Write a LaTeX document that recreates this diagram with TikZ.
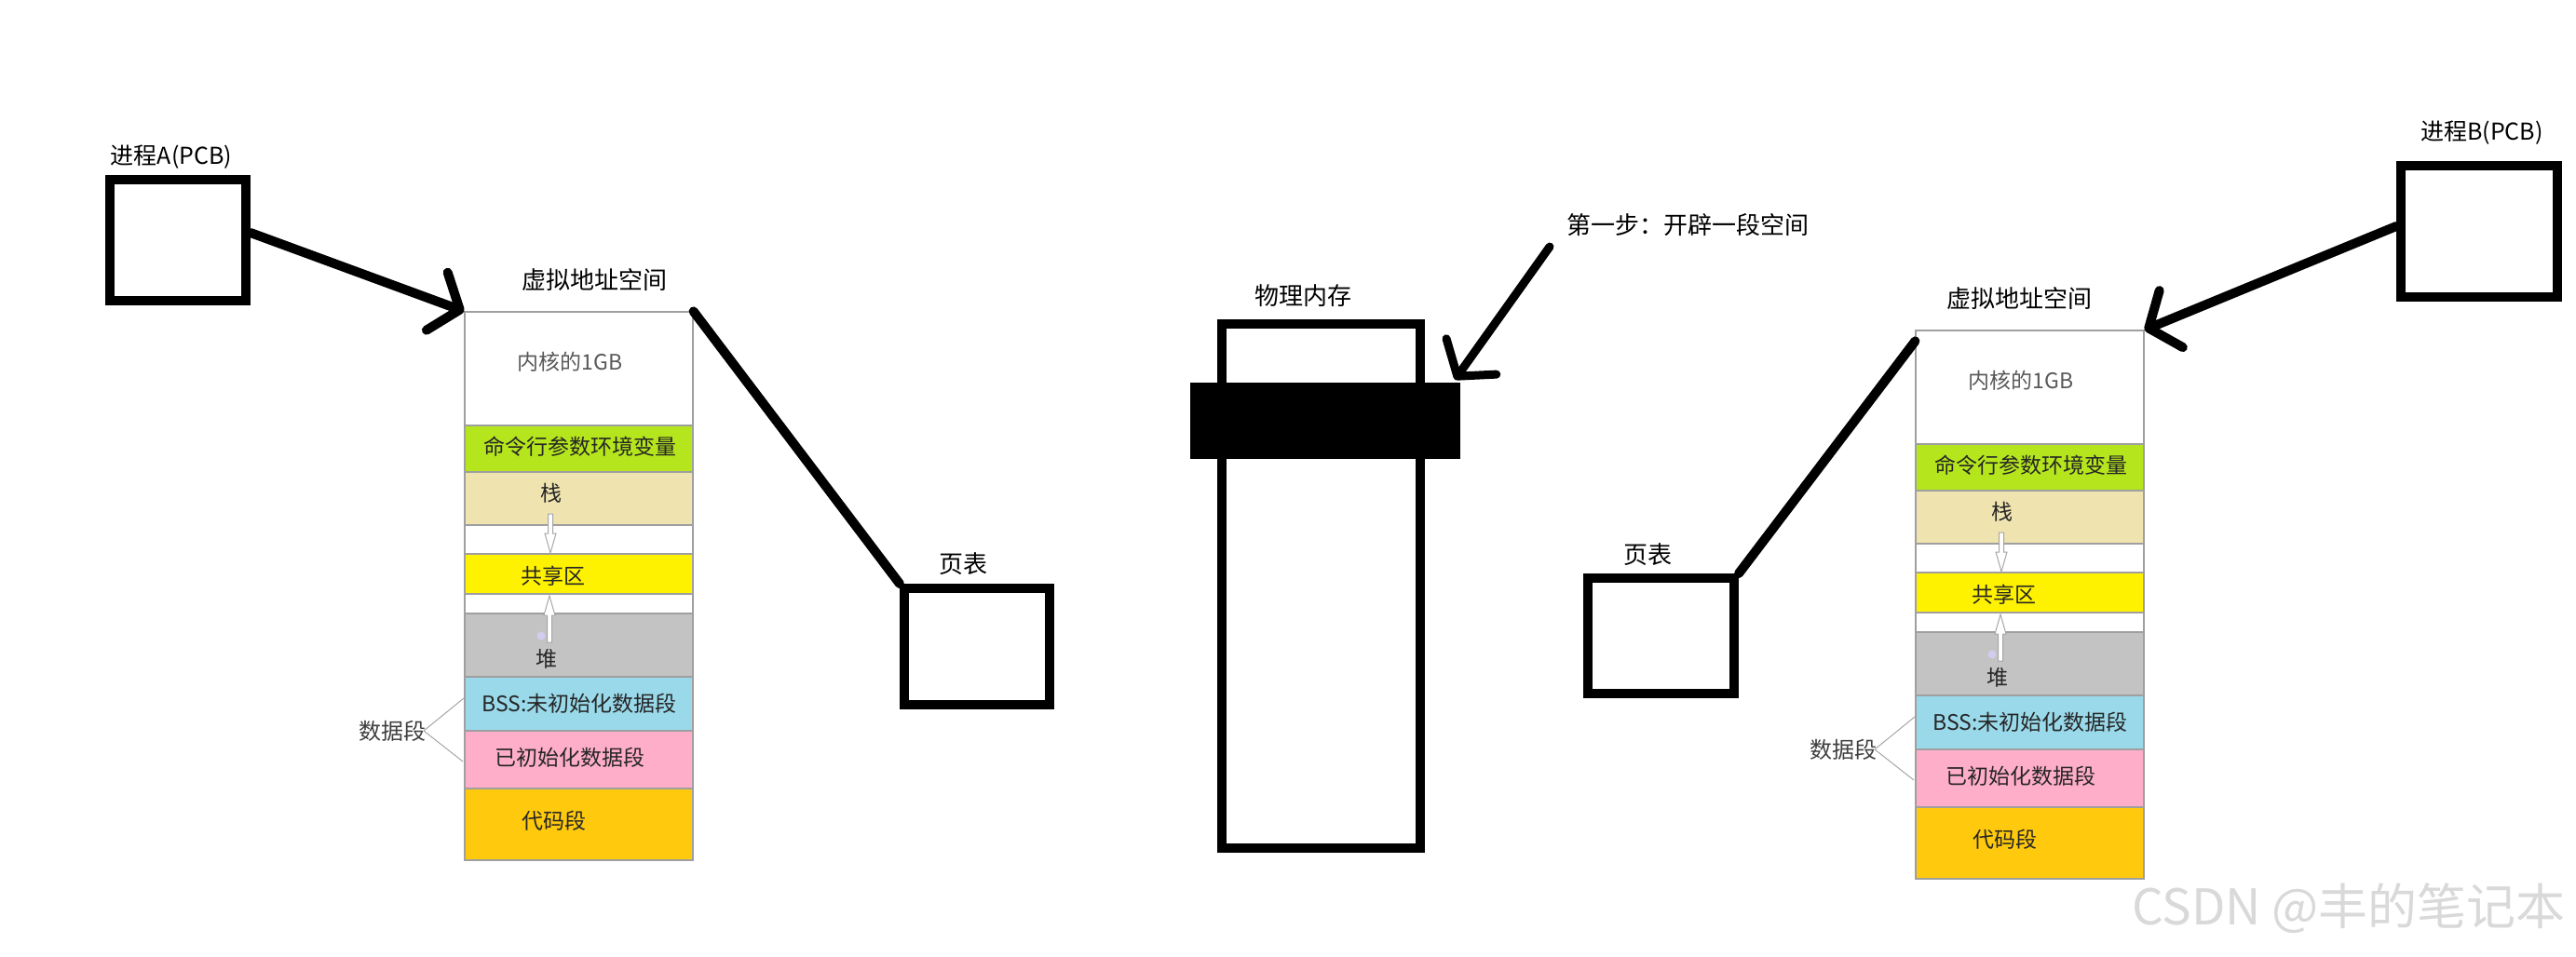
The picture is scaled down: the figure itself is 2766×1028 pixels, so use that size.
\documentclass[tikz,border=0pt]{standalone}
\usepackage{fontspec}
\newfontfamily\cjk{Noto Sans CJK SC}
\usetikzlibrary{arrows.meta,calc}
\definecolor{cgreen}{HTML}{B5E61D}
\definecolor{cbeige}{HTML}{EFE4B0}
\definecolor{cyellow}{HTML}{FFF200}
\definecolor{cgray}{HTML}{C3C3C3}
\definecolor{cblue}{HTML}{99D9EA}
\definecolor{cpink}{HTML}{FFAEC9}
\definecolor{corange}{HTML}{FFC90E}
\definecolor{clav}{HTML}{D2CCEE}
\tikzset{
  blackbox/.style={draw=black, line width=10pt, inner sep=0pt, fill=white},
  lbl/.style={font=\cjk\fontsize{26}{30}\selectfont, inner sep=0pt},
  pcblbl/.style={font=\cjk\fontsize{25}{30}\selectfont, inner sep=0pt},
  rowtxt/.style={font=\cjk\fontsize{23}{27}\selectfont, text=black!85, inner sep=0pt},
  heavy/.style={line width=10pt, line cap=round, line join=round},
  barb/.style={-{Straight Barb[length=26pt,width=66pt,round]}},
  rowbox/.style={draw=gray!75, line width=1.2pt},
  hollow/.style={draw=gray!70, fill=white, line width=1pt},
  thinline/.style={draw=gray!70, line width=1pt},
}
\newcommand\vcolumn[1]{%
  \node[draw=gray!75, fill=white, line width=1.2pt, minimum width=245pt, minimum height=589pt, inner sep=0pt] (#1) at (621.5,629.5) {};
  \draw[rowbox, fill=cgreen]  (499,457) rectangle (744,507);
  \draw[rowbox, fill=cbeige]  (499,507) rectangle (744,564);
  \draw[rowbox, fill=white]   (499,564) rectangle (744,595);
  \draw[rowbox, fill=cyellow] (499,595) rectangle (744,638);
  \draw[rowbox, fill=white]   (499,638) rectangle (744,659);
  \draw[rowbox, fill=cgray]   (499,659) rectangle (744,727);
  \draw[rowbox, fill=cblue]   (499,727) rectangle (744,785);
  \draw[rowbox, fill=cpink]   (499,785) rectangle (744,847);
  \draw[rowbox, fill=corange] (499,847) rectangle (744,924);
  \node[rowtxt, text=black!65] (#1-k) at (612,389) {内核的1GB};
  \node[rowtxt] (#1-cmd) at (623,480) {命令行参数环境变量};
  \node[rowtxt] (#1-stack) at (592,530) {栈};
  \node[rowtxt] (#1-share) at (594,619) {共享区};
  \node[rowtxt] (#1-heap) at (587,708) {堆};
  \node[rowtxt] (#1-bss) at (622,756) {BSS:未初始化数据段};
  \node[rowtxt] (#1-init) at (612,814) {已初始化数据段};
  \node[rowtxt] (#1-code) at (595,882) {代码段};
  \draw[hollow] (588.5,552) -- (593.5,552) -- (593.5,573) -- (597,573) -- (591,594) -- (585,573) -- (588.5,573) -- cycle;
  \draw[hollow] (587.5,690) -- (592.5,690) -- (592.5,661) -- (596,661) -- (590,640) -- (584,661) -- (587.5,661) -- cycle;
  \fill[clav] (581,683) circle (4.5pt);
  \node[rowtxt, text=black!75, font=\cjk\fontsize{24}{28}\selectfont] (#1-ds) at (421,785) {数据段};
  \coordinate (#1-dsend) at (455,785);
  \draw[thinline] (#1-dsend) -- (498,750);
  \draw[thinline] (#1-dsend) -- (497,818);
}
\begin{document}
\begin{tikzpicture}[x=1pt,y=-1pt]
\useasboundingbox (0,0) rectangle (2766,1028);
\fill[white] (0,0) rectangle (2766,1028);

% process boxes
\node[blackbox, minimum width=146pt, minimum height=130pt] (pcbA) at (191,258) {};
\node[pcblbl] (pcbAl) at (184,169) {进程A(PCB)};
\node[blackbox, minimum width=168pt, minimum height=141pt] (pcbB) at (2662,248) {};
\node[pcblbl] (pcbBl) at (2665,143) {进程B(PCB)};

% virtual address spaces
\vcolumn{vA}
\begin{scope}[shift={(1558,20)}]
\vcolumn{vB}
\end{scope}
\node[lbl] (vAl) at (638,301) {虚拟地址空间};
\node[lbl] (vBl) at (2168,321) {虚拟地址空间};

% page tables
\node[blackbox, minimum width=156pt, minimum height=125pt] (ptA) at (1049,694.5) {};
\node[lbl] (ptAl) at (1034,606) {页表};
\node[blackbox, minimum width=157pt, minimum height=124pt] (ptB) at (1783.5,683) {};
\node[lbl] (ptBl) at (1769,596) {页表};

% physical memory
\node[blackbox, minimum width=213pt, minimum height=563pt] (phys) at (1418.5,629.5) {};
\node[fill=black, minimum width=290pt, minimum height=82pt, inner sep=0pt] (band) at (1423,452) {};
\node[lbl] (physl) at (1399,318) {物理内存};
\node[lbl] (step1) at (1812,242) {第一步：开辟一段空间};
\coordinate (s1) at (1664,265);

% connectors
\draw[heavy, barb] ($(pcbA.east)+(0,-8)$) -- (vA.north west);
\draw[heavy] (vA.north east) -- (ptA.north west);
\draw[heavy, barb] ($(pcbB.west)+(0,-5)$) -- (vB.north east);
\draw[heavy] ($(vB.north west)+(0,12)$) -- (ptB.north east);
\draw[heavy, line width=9pt, barb] (s1) -- ($(band.north east)+(-6,-3)$);

% watermark
\node[font=\cjk\fontsize{53}{58}\selectfont, text=gray!30, inner sep=0pt] (wm) at (2522,976) {CSDN @丰的笔记本};
\end{tikzpicture}
\end{document}
